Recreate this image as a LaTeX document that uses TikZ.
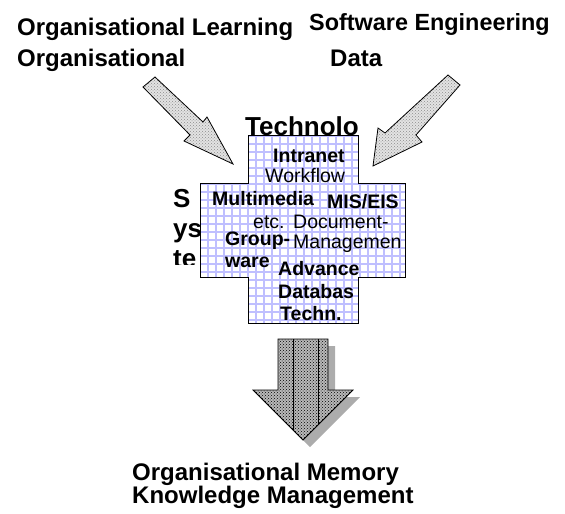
\documentclass[tikz,border=0pt]{standalone}
\usepackage{fontspec}
\setmainfont{Liberation Sans}
\usetikzlibrary{patterns}
\tikzset{
  lbl/.style={anchor=base west, inner sep=0pt, font=\fontsize{24}{28}\selectfont\bfseries},
  bigb/.style={anchor=base west, inner sep=0pt, font=\fontsize{26}{30}\selectfont\bfseries},
  itemb/.style={anchor=base west, inner sep=0pt, font=\fontsize{19.5}{22}\selectfont\bfseries},
  itemr/.style={anchor=base west, inner sep=0pt, font=\fontsize{19.5}{22}\selectfont},
  inarrow/.style={draw=black, line width=0.8pt, preaction={fill=gray!22}, pattern=crosshatch dots, pattern color=gray!90},
}
\begin{document}
\begin{tikzpicture}[x=1pt, y=-1pt]
\useasboundingbox (0,0) rectangle (565,514);
% headings
\node[lbl] (orgl) at (17,35) {Organisational Learning};
\node[lbl] (org) at (17,66) {Organisational};
\node[lbl, font=\fontsize{23.4}{28}\selectfont\bfseries] (swe) at (309,30) {Software Engineering};
\node[lbl] (data) at (330,66) {Data};
% incoming arrows
\draw[inarrow] (143,87) -- (155,77) -- (203,122) -- (207,117) -- (233,164)
  -- (184,141) -- (190,135) -- cycle;
\draw[inarrow] (448,75) -- (460,85) -- (416,135) -- (422,142) -- (373,166)
  -- (378,128) -- (385,133) -- cycle;
% clipped side word
\begin{scope}
  \clip (170,180) rectangle (200,264);
  \node[bigb] (sys1) at (173,207) {S};
  \node[bigb] (sys2) at (173,237) {ys};
  \node[bigb] (sys3) at (173,267) {te};
\end{scope}
% cross
\path[fill=white] (248,135) -- (358,135) -- (358,183) -- (405,183) -- (405,277)
  -- (358,277) -- (358,323) -- (248,323) -- (248,277) -- (200,277) -- (200,183)
  -- (248,183) -- cycle;
\begin{scope}
  \clip (248,135) -- (358,135) -- (358,183) -- (405,183) -- (405,277)
    -- (358,277) -- (358,323) -- (248,323) -- (248,277) -- (200,277) -- (200,183)
    -- (248,183) -- cycle;
  \draw[blue!25, line width=1.5pt, step=8pt] (200,135) grid (405,323);
\end{scope}
\draw[line width=0.9pt] (248,135) -- (358,135) -- (358,183) -- (405,183) -- (405,277)
  -- (358,277) -- (358,323) -- (248,323) -- (248,277) -- (200,277) -- (200,183)
  -- (248,183) -- cycle;
\node[bigb] (tech) at (245,135) {Technolo};
% cross contents
\node[itemb] (intra) at (273,162) {Intranet};
\node[itemr] (wf) at (265,182) {Workflow};
\node[itemb] (mm) at (212,205) {Multimedia};
\node[itemb] (mis) at (327,208) {MIS/EIS};
\node[itemr] (etc) at (253,228) {etc.};
\node[itemr] (doc) at (293,228) {Document-};
\node[itemb] (grp) at (225,245) {Group-};
\begin{scope}
  \clip (290,231) rectangle (403,260);
  \node[itemr] (mgmt) at (293,248) {Managemen};
\end{scope}
\node[itemb] (ware) at (225,267) {ware};
\node[itemb] (adv) at (278,275) {Advance};
\node[itemb] (db) at (278,298) {Databas};
\node[itemb] (techn) at (280,320) {Techn.};
% outgoing arrow
\fill[gray!65] (285,346) -- (335,346) -- (335,397) -- (360,397) -- (310,447)
  -- (260,397) -- (285,397) -- cycle;
\draw[line width=0.8pt, preaction={fill=gray!55}, pattern=crosshatch dots, pattern color=black]
  (278,339) -- (328,339) -- (328,390) -- (353,390) -- (303,440) -- (253,390)
  -- (278,390) -- cycle;
\draw[line width=0.6pt] (293,339) -- (293,430);
\draw[line width=0.6pt] (318,339) -- (318,425);
% result
\node[lbl] (om) at (132,480) {Organisational Memory};
\node[lbl] (km) at (132,503) {Knowledge Management};
\end{tikzpicture}
\end{document}
